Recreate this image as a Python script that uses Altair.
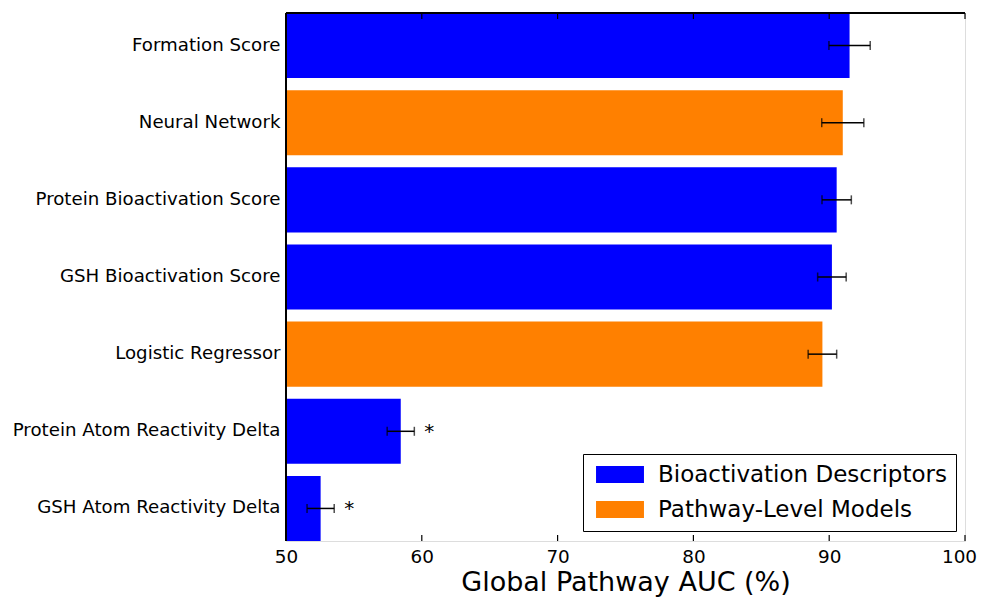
import altair as alt
import pandas as pd

labels = ["Formation Score", "Neural Network", "Protein Bioactivation Score",
          "GSH Bioactivation Score", "Logistic Regressor",
          "Protein Atom Reactivity Delta", "GSH Atom Reactivity Delta"]
auc = [91.5, 91.0, 90.55, 90.2, 89.5, 58.45, 52.55]
err = [1.52, 1.55, 1.08, 1.05, 1.05, 1.0, 1.0]
groups = ["Bioactivation Descriptors", "Pathway-Level Models", "Bioactivation Descriptors",
          "Bioactivation Descriptors", "Pathway-Level Models", "Bioactivation Descriptors",
          "Bioactivation Descriptors"]
sig = ["", "", "", "", "", "*", "*"]
group_names = ["Bioactivation Descriptors", "Pathway-Level Models"]
group_colors = ["#0000ff", "#ff8000"]
x_ticks = [50, 60, 70, 80, 90, 100]

df = pd.DataFrame({"label": labels, "auc": auc, "err": err, "group": groups, "sig": sig})
df["lo"] = df["auc"] - df["err"]
df["hi"] = df["auc"] + df["err"]
ticks_df = pd.DataFrame({"t": x_ticks})

W, H = 679, 528
FONT = "DejaVu Sans"

xscale = alt.Scale(domain=[50, 100], nice=False, zero=False)
yscale = alt.Scale(paddingInner=0.156, paddingOuter=0)
yenc = alt.Y("label:N", sort=labels, scale=yscale,
             axis=alt.Axis(title=None, ticks=False, domain=False, labelFontSize=18.2,
                           labelColor="black", labelPadding=6, labelFont=FONT, labelLimit=400))

base = alt.Chart(df)

bars = base.mark_bar().encode(
    x=alt.X("auc:Q", scale=xscale,
            axis=alt.Axis(values=x_ticks, tickSize=0, domain=False, grid=False,
                          labelFontSize=18.4, labelColor="black", labelPadding=6,
                          labelFlush=False,
                          labelOffset={"condition": {"test": "datum.value == 100", "value": -6},
                                       "value": 0},
                          labelFont=FONT, title="Global Pathway AUC (%)",
                          titleFontSize=27, titleFontWeight="normal", titleColor="black",
                          titleFont=FONT, titlePadding=4)),
    x2=alt.datum(50),
    y=yenc,
    color=alt.Color("group:N", scale=alt.Scale(domain=group_names, range=group_colors),
                    legend=alt.Legend(title=None, orient="none", legendX=297, legendY=441,
                                      symbolType="M-2.82,-1H2.82V1H-2.82Z", symbolSize=289,
                                      symbolOffset=16.5, labelOffset=26.5,
                                      labelFontSize=23, labelFont=FONT, labelColor="black",
                                      padding=9, rowPadding=11, strokeColor="black",
                                      fillColor="white", cornerRadius=0,
                                      symbolStrokeWidth=0, labelLimit=500)),
)

err_rule = base.mark_rule(color="black", strokeWidth=1.5).encode(
    x=alt.X("lo:Q", scale=xscale), x2="hi:Q", y=alt.Y("label:N", sort=labels, scale=yscale))
cap_lo = base.mark_tick(color="black", thickness=1.5, size=9).encode(
    x=alt.X("lo:Q", scale=xscale), y=alt.Y("label:N", sort=labels, scale=yscale))
cap_hi = base.mark_tick(color="black", thickness=1.5, size=9).encode(
    x=alt.X("hi:Q", scale=xscale), y=alt.Y("label:N", sort=labels, scale=yscale))
stars = base.mark_text(fontSize=20, font=FONT, color="black", dx=15, dy=7,
                       baseline="alphabetic", align="center").encode(
    x=alt.X("hi:Q", scale=xscale), y=alt.Y("label:N", sort=labels, scale=yscale), text="sig:N")

tick_bot = alt.Chart(ticks_df).mark_rule(color="black", strokeWidth=1.2).encode(
    x=alt.X("t:Q", scale=xscale), y=alt.value(H), y2=alt.value(H - 6))
tick_top = alt.Chart(ticks_df).mark_rule(color="black", strokeWidth=1.2).encode(
    x=alt.X("t:Q", scale=xscale), y=alt.value(0), y2=alt.value(6))

spine_left = alt.Chart(ticks_df).mark_rule(color="black", strokeWidth=1.5).encode(
    x=alt.value(0), y=alt.value(0), y2=alt.value(H))
spine_top = alt.Chart(ticks_df).mark_rule(color="black", strokeWidth=1.5).encode(
    x=alt.value(0), x2=alt.value(W), y=alt.value(0))

chart = alt.layer(bars, err_rule, cap_lo, cap_hi, stars, tick_bot, tick_top,
                  spine_left, spine_top).properties(
    width=W, height=H,
    autosize=alt.AutoSizeParams(type="none"),
    padding={"left": 278, "top": 5, "right": 12, "bottom": 64}
).configure_view(stroke="black", strokeWidth=1.5).configure(font=FONT)

chart.save("out.html", embed_options={"renderer": "svg", "actions": False})
